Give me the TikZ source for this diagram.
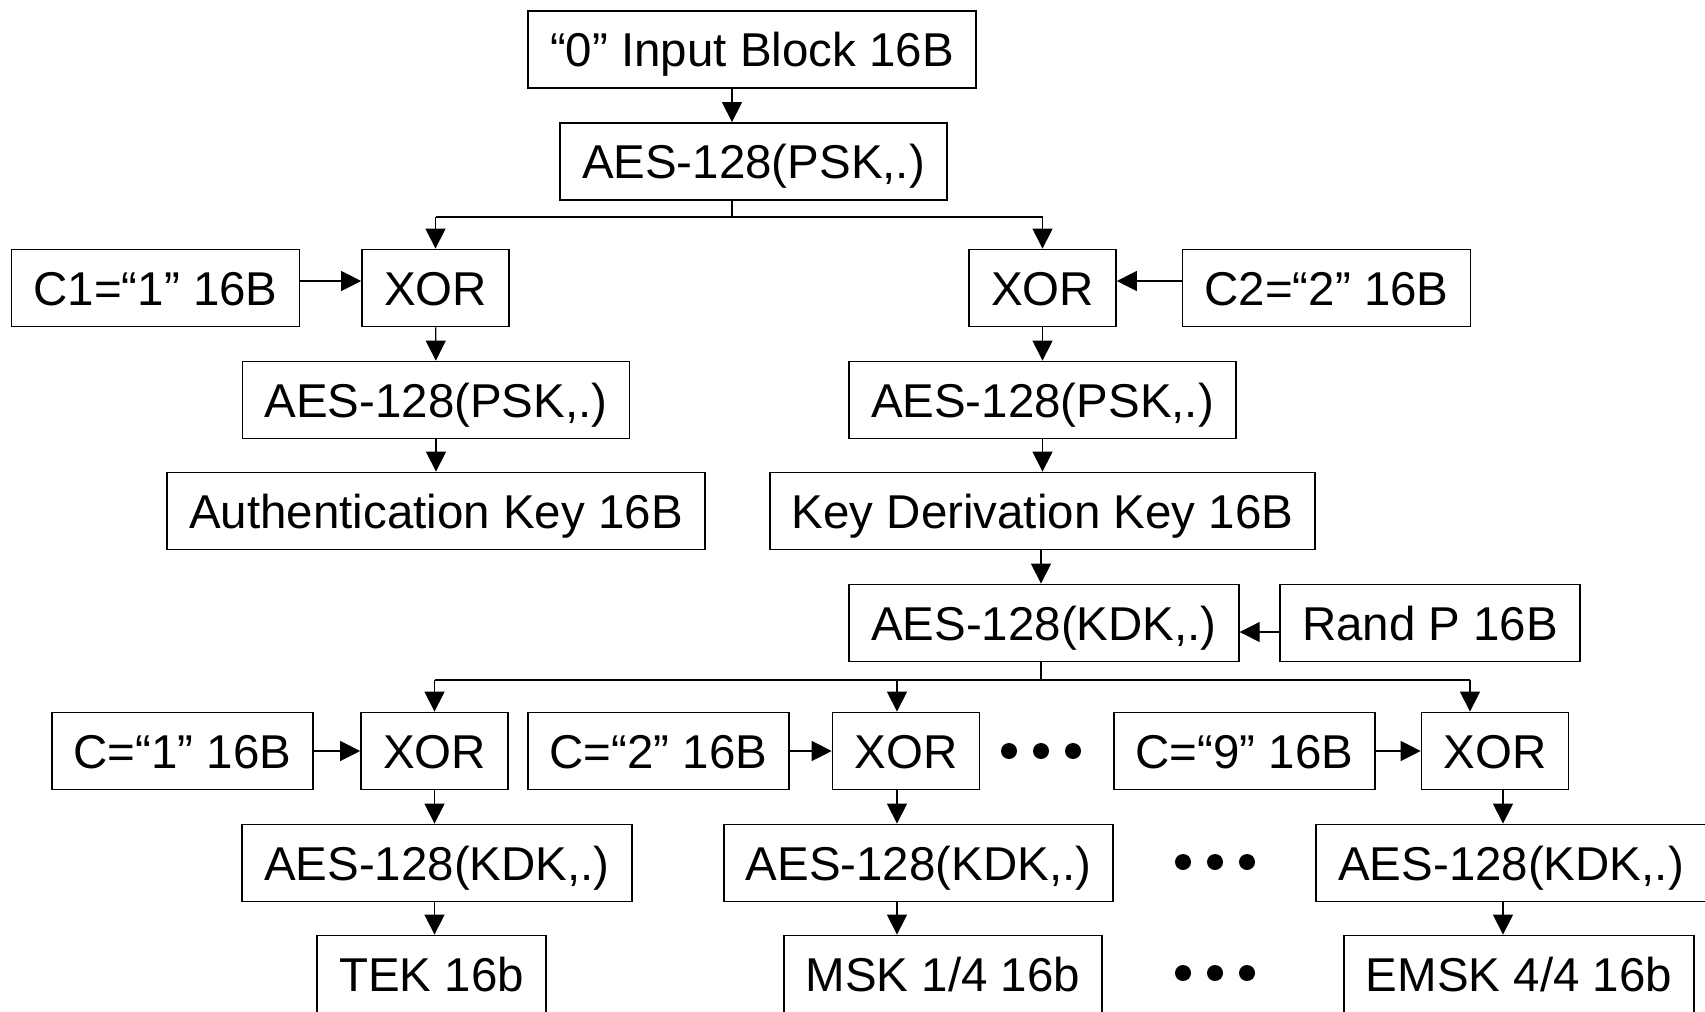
\documentclass[tikz,border=0pt]{standalone}
\usepackage{fontspec}
\setmainfont{Liberation Sans}
\usetikzlibrary{arrows.meta}

\begin{document}
\begin{tikzpicture}[x=0.01cm,y=-0.01cm,
	blk/.style={draw,line width=0.5pt,minimum height=0.77cm,inner xsep=0.22cm,inner ysep=0pt,text height=9.7pt,text depth=0pt,font=\fontsize{13.5}{16}\selectfont},
	pfeil/.style={-{Triangle[length=0.2cm,width=0.2cm]},line width=0.35pt},
	ast/.style={line width=0.6pt}]
	\clip (0,0) rectangle (1705,1011) ;
%%% PSK-Teil
	\node[blk] (inp) at (752,49.5) {“0” Input Block 16B} ;
	\node[blk] (aes0) at (753.5,161.5) {AES-128(PSK,.)} ;
	\node[blk] (c1) at (155.5,288) {C1=“1” 16B} ;
	\node[blk] (xorL) at (435.5,288) {XOR} ;
	\node[blk] (xorR) at (1042.5,288) {XOR} ;
	\node[blk] (c2) at (1326.5,288) {C2=“2” 16B} ;
	\node[blk] (aesL) at (436,400) {AES-128(PSK,.)} ;
	\node[blk] (aesR) at (1042.5,400) {AES-128(PSK,.)} ;
	\node[blk] (auth) at (436,511) {Authentication Key 16B} ;
	\node[blk] (kdk) at (1042.5,511) {Key Derivation Key 16B} ;
%%% KDK-Teil
	\node[blk] (aesK) at (1044,623) {AES-128(KDK,.)} ;
	\node[blk] (rand) at (1430,623) {Rand P 16B} ;
	\node[blk] (ca) at (182.5,751) {C=“1” 16B} ;
	\node[blk] (xora) at (434.5,751) {XOR} ;
	\node[blk] (cb) at (658.5,751) {C=“2” 16B} ;
	\node[blk] (xorb) at (906,751) {XOR} ;
	\node[blk] (cc) at (1244.5,751) {C=“9” 16B} ;
	\node[blk] (xorc) at (1495,751) {XOR} ;
	\node[blk] (aesa) at (437,863) {AES-128(KDK,.)} ;
	\node[blk] (aesb) at (918.5,863) {AES-128(KDK,.)} ;
	\node[blk] (aesc) at (1511,863) {AES-128(KDK,.)} ;
	\node[blk] (tek) at (431.5,974) {TEK 16b} ;
	\node[blk] (msk) at (943,974) {MSK 1/4 16b} ;
	\node[blk] (emsk) at (1519,974) {EMSK 4/4 16b} ;
%%% Verzweigungen
	\coordinate (v0) at (732,217) ;
	\coordinate (v1) at (1041,680) ;
	\coordinate (sb) at (897,680) ;
	\coordinate (sc) at (1470,680) ;
	\coordinate (tc) at (1503,680) ;
	\coordinate (h1) at (0,281) ;
	\coordinate (h2) at (0,632) ;
%%% Pfeile oben
	\draw[pfeil] (inp.south -| v0) -- (aes0.north -| v0) ;
	\draw (aes0.south -| v0) -- (v0) ;
	\draw[ast] (xorL.north |- v0) -- (xorR.north |- v0) ;
	\draw[pfeil] (xorL.north |- v0) -- (xorL.north) ;
	\draw[pfeil] (xorR.north |- v0) -- (xorR.north) ;
	\draw[pfeil] (c1.east |- h1) -- (xorL.west |- h1) ;
	\draw[pfeil] (c2.west |- h1) -- (xorR.east |- h1) ;
	\draw[pfeil] (xorL) -- (aesL) ;
	\draw[pfeil] (aesL) -- (auth) ;
	\draw[pfeil] (xorR) -- (aesR) ;
	\draw[pfeil] (aesR) -- (kdk) ;
	\draw[pfeil] (kdk.south -| v1) -- (aesK.north -| v1) ;
	\draw[pfeil] (rand.west |- h2) -- (aesK.east |- h2) ;
%%% Pfeile unten
	\draw (aesK.south -| v1) -- (v1) ;
	\draw[ast] (xora.north |- v1) -- (sc) ;
	\draw[pfeil] (xora.north |- v1) -- (xora.north) ;
	\draw[pfeil] (sb) -- (xorb.north -| sb) ;
	\draw[pfeil] (sc) -- (xorc.north -| sc) ;
	\draw[pfeil] (ca) -- (xora) ;
	\draw[pfeil] (cb) -- (xorb) ;
	\draw[pfeil] (cc) -- (xorc) ;
	\draw[pfeil] (xora.south) -- (aesa.north -| xora) ;
	\draw[pfeil] (aesa.south -| xora) -- (tek.north -| xora) ;
	\draw[pfeil] (xorb.south -| sb) -- (aesb.north -| sb) ;
	\draw[pfeil] (aesb.south -| sb) -- (msk.north -| sb) ;
	\draw[pfeil] (xorc.south -| tc) -- (aesc.north -| tc) ;
	\draw[pfeil] (aesc.south -| tc) -- (emsk.north -| tc) ;
%%% Punkte
	\foreach \x in {1009,1041,1073}{
		\fill (\x,751) circle (0.08cm) ;
	}
	\foreach \y in {862,973}{
		\foreach \x in {1183,1215,1247}{
			\fill (\x,\y) circle (0.08cm) ;
		}
	}
\end{tikzpicture}
\end{document}
